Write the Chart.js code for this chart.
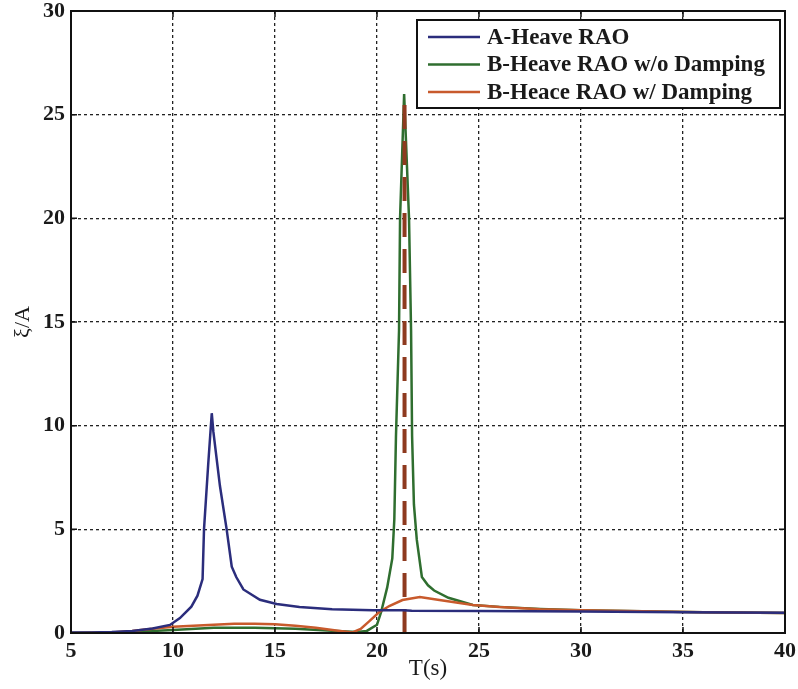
<!DOCTYPE html>
<html>
<head>
<meta charset="utf-8">
<script src="https://cdn.jsdelivr.net/npm/chart.js@4.4.1/dist/chart.umd.min.js"></script>
<style>
  html, body { margin: 0; padding: 0; background: #fff; }
  canvas { display: block; }
</style>
</head>
<body>
<canvas id="raoChart" width="798" height="689"></canvas>
<script>
// period T(s) and response for each series
const tHeaveA = [5, 6, 7, 8, 9, 9.85, 10.34, 10.9, 11.2, 11.45, 11.52, 11.73, 11.9, 11.98, 12.3, 12.63, 12.88, 13.1, 13.45, 14.26, 15.08, 16.2, 17.8, 19.8, 21.3, 21.7, 25, 30, 35, 40];
const yHeaveA = [0.02, 0.03, 0.05, 0.1, 0.22, 0.39, 0.72, 1.27, 1.8, 2.6, 5.0, 8.2, 10.6, 9.7, 7.1, 5.0, 3.2, 2.7, 2.1, 1.6, 1.4, 1.25, 1.15, 1.1, 1.1, 1.07, 1.06, 1.04, 1.0, 0.98];

const tNoDamp = [5, 8, 10, 12, 14, 16, 18, 19, 19.5, 20, 20.2, 20.5, 20.75, 20.85, 20.93, 21.08, 21.13, 21.33, 21.57, 21.67, 21.72, 21.81, 21.95, 22.2, 22.5, 22.8, 23.5, 24.7, 26, 28, 30, 33, 36, 40];
const yNoDamp = [0, 0.05, 0.15, 0.25, 0.25, 0.2, 0.1, 0.05, 0.1, 0.4, 1.0, 2.2, 3.6, 5.5, 9.5, 14.6, 20, 26, 20, 14.6, 9.5, 6.2, 4.5, 2.7, 2.3, 2.05, 1.7, 1.35, 1.26, 1.16, 1.1, 1.05, 1.0, 0.96];

const tDamp = [5, 7, 8, 9, 10, 11, 12, 13, 14, 15, 16, 17, 18, 18.8, 19.2, 19.6, 20.1, 20.6, 21.25, 22.1, 23.06, 24.7, 26, 28, 30, 33, 36, 40];
const yDamp = [0, 0.03, 0.1, 0.2, 0.3, 0.35, 0.4, 0.45, 0.45, 0.42, 0.35, 0.25, 0.12, 0.03, 0.2, 0.55, 1.0, 1.3, 1.59, 1.73, 1.59, 1.35, 1.25, 1.15, 1.1, 1.05, 1.0, 0.96];

// dashed resonance marker
const tResonance = [21.35, 21.35];
const yResonance = [0, 26];

const xTicks = [5, 10, 15, 20, 25, 30, 35, 40];
const yTicks = [0, 5, 10, 15, 20, 25, 30];

const serif = "'Liberation Serif', 'Times New Roman', serif";

const pts = (xs, ys) => xs.map((x, i) => ({ x: x, y: ys[i] }));

const frame = {
    id: 'frame',
    afterDraw(chart) {
        const { ctx, chartArea: a, scales } = chart;
        ctx.save();
        ctx.strokeStyle = '#111';
        ctx.lineWidth = 2;
        ctx.strokeRect(a.left, a.top, a.right - a.left, a.bottom - a.top);
        ctx.lineWidth = 1.5;
        ctx.beginPath();
        xTicks.forEach((v) => {
            const px = scales.x.getPixelForValue(v);
            ctx.moveTo(px, a.bottom); ctx.lineTo(px, a.bottom - 6);
            ctx.moveTo(px, a.top); ctx.lineTo(px, a.top + 6);
        });
        yTicks.forEach((v) => {
            const py = scales.y.getPixelForValue(v);
            ctx.moveTo(a.left, py); ctx.lineTo(a.left + 6, py);
            ctx.moveTo(a.right, py); ctx.lineTo(a.right - 6, py);
        });
        ctx.stroke();
        ctx.restore();
    },
};

const boxLegend = {
    id: 'boxLegend',
    afterDraw(chart) {
        const { ctx, chartArea: a } = chart;
        const items = chart.data.datasets.filter((d) => !d.hideInLegend);
        const w = 363, h = 88;
        const left = a.right - 5 - w, top = a.top + 9;
        ctx.save();
        ctx.fillStyle = '#fff';
        ctx.fillRect(left, top, w, h);
        ctx.strokeStyle = '#111';
        ctx.lineWidth = 2;
        ctx.strokeRect(left, top, w, h);
        ctx.font = 'bold 23px ' + serif;
        ctx.textBaseline = 'middle';
        items.forEach((d, i) => {
            const y = top + 17 + i * 27.5;
            ctx.strokeStyle = d.borderColor;
            ctx.lineWidth = 2.5;
            ctx.beginPath();
            ctx.moveTo(left + 11, y);
            ctx.lineTo(left + 63, y);
            ctx.stroke();
            ctx.fillStyle = '#1a1a1a';
            ctx.fillText(d.label, left + 70, y + 1);
        });
        ctx.restore();
    },
};

new Chart(document.getElementById('raoChart'), {
    type: 'scatter',
    data: {
        datasets: [
            {
                label: 'A-Heave RAO',
                data: pts(tHeaveA, yHeaveA),
                borderColor: '#2b2d7c',
                borderWidth: 2.5,
                order: 0,
            },
            {
                label: 'B-Heave RAO w/o Damping',
                data: pts(tNoDamp, yNoDamp),
                borderColor: '#2f6e2f',
                borderWidth: 2.5,
                order: 3,
            },
            {
                label: 'B-Heace RAO w/ Damping',
                data: pts(tDamp, yDamp),
                borderColor: '#c85a2c',
                borderWidth: 2.5,
                order: 1,
            },
            {
                label: 'resonance',
                data: pts(tResonance, yResonance),
                borderColor: '#8e3a1f',
                borderWidth: 4,
                borderDash: [24, 12],
                hideInLegend: true,
                order: 2,
            },
        ],
    },
    options: {
        responsive: false,
        animation: false,
        devicePixelRatio: 1,
        showLine: true,
        elements: {
            point: { radius: 0, hoverRadius: 0 },
            line: { tension: 0 },
        },
        layout: { padding: { top: 11, right: 13, left: 0, bottom: 0 } },
        plugins: {
            legend: { display: false },
            tooltip: { enabled: false },
        },
        scales: {
            x: {
                type: 'linear',
                min: 5,
                max: 40,
                afterBuildTicks: (s) => { s.ticks = xTicks.map((v) => ({ value: v })); },
                afterFit: (s) => { s.height = 56; s.paddingLeft = 0; s.paddingRight = 0; },
                grid: { color: '#222', lineWidth: 1.3, drawTicks: false },
                border: { dash: [3, 3], color: '#111', width: 2 },
                ticks: {
                    color: '#1a1a1a',
                    padding: 7,
                    maxRotation: 0,
                    font: { family: serif, size: 22, weight: 'bold', lineHeight: 1 },
                },
                title: {
                    display: true,
                    text: 'T(s)',
                    color: '#1a1a1a',
                    padding: { top: 0, bottom: 6 },
                    font: { family: serif, size: 23, lineHeight: 1.2 },
                },
            },
            y: {
                min: 0,
                max: 30,
                afterBuildTicks: (s) => { s.ticks = yTicks.map((v) => ({ value: v })); },
                afterFit: (s) => { s.width = 71; s.paddingTop = 0; s.paddingBottom = 0; },
                grid: { color: '#222', lineWidth: 1.3, drawTicks: false },
                border: { dash: [3, 3], color: '#111', width: 2 },
                ticks: {
                    color: '#1a1a1a',
                    padding: 6,
                    font: { family: serif, size: 22, weight: 'bold', lineHeight: 1 },
                },
                title: {
                    display: true,
                    text: 'ξ/A',
                    color: '#1a1a1a',
                    padding: { top: 10, bottom: 0 },
                    font: { family: serif, size: 22, lineHeight: 1.2 },
                },
            },
        },
    },
    plugins: [frame, boxLegend],
});
</script>
</body>
</html>
